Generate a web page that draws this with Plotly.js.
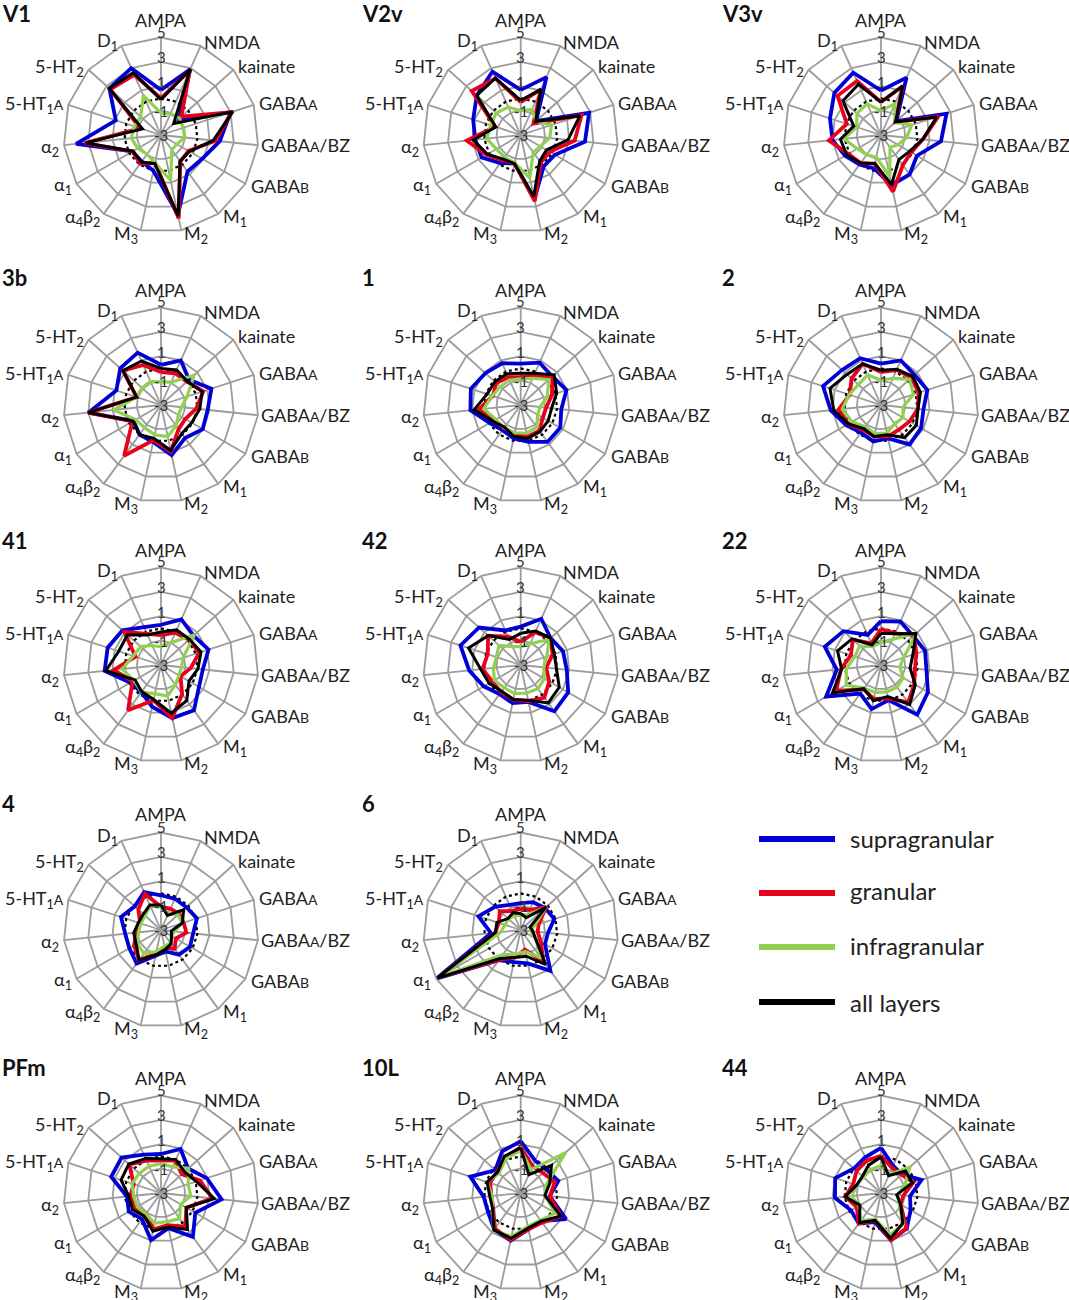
<!DOCTYPE html>
<html>
<head>
<meta charset="utf-8">
<script src="https://cdn.plot.ly/plotly-3.0.1.min.js"></script>
<style>
  html, body { margin: 0; padding: 0; background: #fff; }
  #chart { width: 1069px; height: 1300px; }
</style>
</head>
<body>
<div id="chart"></div>
<script>
const small = s => '<span style="font-size:14px">' + s + '</span>';
const receptors = ['AMPA', 'NMDA', 'kainate', 'GABA' + small('A'), 'GABA' + small('A') + '/BZ', 'GABA' + small('B'),
  'M<sub>1</sub>', 'M<sub>2</sub>', 'M<sub>3</sub>', 'α<sub>4</sub>β<sub>2</sub>', 'α<sub>1</sub>', 'α<sub>2</sub>',
  '5-HT<sub>1</sub>' + small('A'), '5-HT<sub>2</sub>', 'D<sub>1</sub>'];
const tickVals = [-3, -1, 1, 3, 5];
const tickLabels = ['-3', '-1', '1', '3', '5'];
const dottedRing = [0, 0, 0, 0, 0, 0, 0, 0, 0, 0, 0, 0, 0, 0, 0];
const layerNames = ['supragranular', 'granular', 'infragranular', 'all layers'];
const layerColors = ['#0000d6', '#e8001c', '#92d050', '#000000'];
const layerWidths = [3.8, 3.8, 3.2, 3];

const v1Supra = [0.7, 2.9, -1.0, 3.0, 1.85, 0.9, 0.7, 3.7, 0, -0.3, -0.3, 4.0, 0.9, 2.7, 3.0];
const v1Gran = [0, 2.8, -0.75, 3.1, 1.5, -0.4, -0.3, 4.0, -0.65, -0.1, -0.3, 3.3, -1.2, 2.6, 2.4];
const v1Infra = [-1.2, -1.1, -0.95, -1.1, -1.05, -1.5, -1.5, 0.8, -0.65, -1.05, -0.8, -0.55, -0.7, -0.75, 0.55];
const v1All = [-0.1, 2.9, -1.6, 3.2, 1.3, -0.3, -0.35, 3.8, -0.6, -0.25, -0.35, 3.2, -1.4, 2.7, 2.6];

const v2vSupra = [0.7, 2.2, -1.3, 2.9, 2.3, 0.25, 0.2, 2.4, -0.6, -0.15, 0.7, 0.75, 1.1, 1.85, 2.7];
const v2vGran = [-0.3, 1.1, -1.6, 2.25, 1.45, -0.25, -0.2, 2.55, -0.6, -0.45, 0.25, 1.45, -0.8, 2.4, 2.1];
const v2vInfra = [-1, -0.7, -1.3, -0.35, -0.6, -1.15, -1.25, 0.6, -0.65, -0.75, -0.7, -0.2, -0.4, -0.3, -0.5];
const v2vAll = [-0.15, 1.1, -1.35, 2.1, 0.9, -0.55, -0.35, 2.15, -0.6, -0.55, 0.15, 0.9, -0.85, 1.85, 2.1];

const v3vSupra = [0.65, 2.15, -1.3, 2.65, 1.95, 0.4, 1.0, 1.2, -0.2, 0, 0.4, 1, 1.4, 2.15, 2.6];
const v3vGran = [-0.3, 1.4, -1.45, 1.95, 0.45, -0.15, 0.05, 1.75, -0.6, -0.15, 0.1, 1.3, -0.05, 1.8, 1.85];
const v3vInfra = [-1, -0.2, -1.45, -0.35, -0.9, -1.4, -1.75, 0.5, -1.15, -1, -0.75, 0.05, -0.9, -0.35, -0.2];
const v3vAll = [-0.3, 1.4, -1.4, 1.8, 0.45, -0.3, -0.5, 1.15, -0.6, -0.15, 0.25, 0.35, -0.65, 1.2, 1.55];

const a3bSupra = [0.3, 1, 0.1, 1.35, 0.85, 0.95, 0.35, 1.2, 0.1, 0, -0.4, 3, 0.85, 1.5, 1.7];
const a3bGran = [-0.3, -0.15, -0.15, 0.65, -0.1, -0.7, -0.55, 0.9, -0.05, 2.15, -0.3, 3, -0.9, 1.2, 0.6];
const a3bInfra = [-1.1, -0.95, 0.65, -0.75, -1.3, -1.35, -0.9, -0.35, -0.5, -0.7, -0.6, 0.9, -0.9, -0.9, -0.9];
const a3bAll = [0, 0.15, -0.1, 0.55, 0.2, -0.1, -0.1, 0.8, -0.2, 0, -0.35, 3, -0.9, 1.2, 0.95];

const a1Supra = [0.4, 0.8, 0.5, 0.95, 0.35, 0.75, 0.75, 0.1, -0.2, -0.45, -0.05, 1.15, 1.3, 0.9, 0.75];
const a1Gran = [-0.7, -0.35, 0.5, -0.3, -0.9, -0.9, -0.4, -0.35, -0.5, -0.7, -0.4, 0.45, -0.6, -0.3, -0.5];
const a1Infra = [-0.85, -0.6, 0.1, -0.7, -1.4, -1.4, -0.75, -0.65, -0.65, -0.7, -0.65, 0.05, -0.55, -0.75, -0.75];
const a1All = [-0.4, -0.15, 0.7, 0.1, -0.45, -0.4, -0.3, -0.2, -0.35, -0.75, -0.35, 0.85, -0.1, -0.15, -0.2];

const a2Supra = [0.4, 1, 0.7, 1, 0.5, 0.8, 1, -0.2, 0.05, -0.2, 0.3, 1.15, 2, 1.3, 1.2];
const a2Gran = [-0.3, 0.15, 0.35, 0.25, 0.05, -0.3, -0.5, -0.35, -0.35, -0.5, 0.1, 0.5, -0.3, 0.25, 0.7];
const a2Infra = [-0.95, -0.6, 0.15, -0.2, -1.2, -0.9, -1.1, -0.65, -0.6, -0.8, -0.25, 0.2, -0.25, -0.5, -0.3];
const a2All = [-0.15, 0.2, 0.5, 0.4, 0.05, 0.35, 0.3, -0.5, -0.35, -0.6, 0.1, 0.9, 1.4, 0.75, 0.7];

const a41Supra = [0.3, 1.1, 0.6, 1.1, 0.45, 0.6, 1.6, 1.45, 0.5, -0.25, -0.1, 1.65, 1.6, 1.25, 0.4];
const a41Gran = [-0.55, -0.1, 0.1, 0.3, -0.55, -1.15, -0.05, 1.45, -0.05, 1.6, -0.3, 0.9, -0.8, 1.05, -0.2];
const a41Infra = [-1.5, -1, 0.7, -1.1, -1.3, -1.3, -1, -0.4, -0.6, -0.25, -0.45, 0.2, -0.6, -0.75, -1.25];
const a41All = [-0.3, 0.15, 0.15, 0.45, 0.05, -0.35, 0.6, 1.05, -0.1, -0.3, -0.55, 1.55, 0.65, 0.7, -0.3];

const a42Supra = [0.15, 1.15, 0.3, 0.65, 0.8, 1.5, 1.7, 0.1, 0.2, -0.05, 0.5, 1.25, 2.2, 1.6, 0.1];
const a42Gran = [-1.1, -0.05, 0.3, -0.25, -0.9, -0.3, 0.3, 0.05, -0.1, -0.25, -0.3, 0.15, -0.15, 0.6, -0.45];
const a42Infra = [-1.5, -1.1, 0.15, -0.75, -1.1, -0.75, -0.6, -0.65, -0.6, -0.7, -0.5, -0.75, -0.9, -0.6, -1.35];
const a42All = [-0.4, 0.05, 0.3, -0.1, -0.05, 0.65, 0.85, -0.05, -0.1, -0.35, 0, 0.3, 1.5, 0.6, -0.7];

const a22Supra = [0.6, 0.9, 0.55, 0.8, 0.75, 1.45, 2.05, -0.05, 0.7, -0.1, 2.2, 0.65, 1.85, 1.15, -0.3];
const a22Gran = [-0.05, -0.15, 0.65, 0.05, -0.2, 0.15, 0.8, -0.2, -0.15, -0.55, 1.25, 0.3, -0.4, 0.1, -1.05];
const a22Infra = [-1.15, -0.7, 0.95, -1.05, -1.45, -0.9, -0.75, -0.75, -0.7, -0.65, 0.3, -0.15, -0.75, -0.65, -1.35];
const a22All = [-0.4, -0.2, 0.85, -0.25, -0.6, 0.25, 1, -0.35, 0, -0.6, 1.6, 0.25, 0.75, 0.2, -1.2];

const a4Supra = [-0.15, -0.2, -0.2, 0.1, -0.35, -0.25, -0.5, -1.2, -0.85, 0.4, 0, -0.05, 0.45, -0.1, 0.4];
const a4Gran = [-1.1, -1.1, -1, -1.05, -0.9, -1.6, -1.1, -1.5, -1, 0.05, -0.45, -0.95, -1.2, -0.5, 0.25];
const a4Infra = [-1.1, -1.55, -1.1, -1.2, -1.9, -2, -1.65, -1.65, -1.2, -0.6, -0.75, -1.15, -1.25, -1.25, -0.8];
const a4All = [-0.95, -1.7, -0.5, -1.15, -2.15, -2, -1.6, -1.35, -0.9, 0.05, -0.65, -0.75, -1.05, -1.05, -0.75];

const a6Supra = [-0.8, -0.5, -0.3, -0.1, -0.75, -0.7, 1.15, -0.2, -0.3, 0.05, 5, -0.55, 0.65, -0.15, -0.75];
const a6Gran = [-1.25, -1.2, -0.2, -1.45, -1.6, -1.1, 0.2, -1.35, -0.7, 0, 4.8, -0.9, -1.1, -0.7, -1.3];
const a6Infra = [-1.8, -1.65, -0.2, -1.8, -2.2, -1.6, -0.15, -1.2, -0.95, -0.5, 4.7, -1.35, -1.65, -1.65, -1.7];
const a6All = [-1.65, -1.9, -0.2, -2.2, -2, -1.6, 0.5, -0.8, -0.7, -0.1, 4.9, -0.9, -0.95, -1.6, -1.45];

const pfmSupra = [0.2, 0.95, 0, 0.95, 2, 0.25, 1.45, -0.05, 0.95, -0.35, 0.05, -0.2, 1.3, 1.35, 0.45];
const pfmGran = [-0.35, -0.1, -0.7, 0.35, 1.25, -0.6, 0.4, -0.3, 0.05, -0.9, -0.6, -0.45, -0.65, 0.5, -0.1];
const pfmInfra = [-0.6, -0.65, 0.05, -0.65, -0.55, -1.15, -0.4, -0.6, -0.45, -0.9, -0.75, -0.75, -0.5, -0.6, -0.6];
const pfmAll = [-0.2, 0, -0.4, 0.05, 1.4, -0.6, 0.7, -0.15, 0.2, -0.65, -0.3, -0.35, 0.45, 0.55, 0.1];

const a10lSupra = [1.25, -0.1, -0.15, 0.25, -0.6, 1.3, -0.15, 0.05, 1, 0.7, 0.1, 0.05, 1.35, -0.2, 0.75];
const a10lGran = [0.75, -0.6, -0.55, -0.05, -0.6, 0.8, 0, 0.05, 0.95, 0.6, -0.4, -0.6, -0.35, -0.4, 0.2];
const a10lInfra = [0.5, -0.9, 1.95, -0.8, -1, 0.3, -0.25, -0.2, 0.65, 0.8, -0.35, -0.65, -0.1, -0.6, 0.05];
const a10lAll = [0.7, -1.35, 0.4, -0.5, -1, 0.8, -0.15, -0.05, 0.8, 0.75, -0.35, -0.45, -0.1, -0.45, 0.3];

const a44Supra = [0.7, -0.55, -0.7, 0.5, -0.6, -0.2, 0.6, 0.95, -0.55, 0.1, -0.15, 0.8, 0.95, 0, 0.2];
const a44Gran = [0.05, -0.75, -0.75, -0.2, -1.15, -1.15, 0.55, 0.95, -0.7, 0.1, -0.7, -0.05, -0.6, -0.3, -0.1];
const a44Infra = [-0.75, -1.35, 0.2, -0.95, -1.6, -1.3, 0.15, 0.5, -0.8, -0.2, -0.9, -0.6, -0.9, -1.05, -0.9];
const a44All = [-0.05, -1.45, -0.3, -0.3, -1.7, -1.15, 0.05, 0.8, -0.7, 0, -1, -0.05, -0.9, -0.95, -0.5];

const W = 1069, H = 1300, R = 97.5;
const panels = [
  { name: 'V1', cx: 161, cy: 135, lx: 0, ly: 13, data: [v1Supra, v1Gran, v1Infra, v1All] },
  { name: 'V2v', cx: 520.7, cy: 135, lx: 360, ly: 13, data: [v2vSupra, v2vGran, v2vInfra, v2vAll] },
  { name: 'V3v', cx: 881, cy: 135, lx: 720, ly: 13, data: [v3vSupra, v3vGran, v3vInfra, v3vAll] },
  { name: '3b', cx: 161, cy: 405, lx: 0, ly: 278, data: [a3bSupra, a3bGran, a3bInfra, a3bAll] },
  { name: '1', cx: 520.7, cy: 405, lx: 360, ly: 278, data: [a1Supra, a1Gran, a1Infra, a1All] },
  { name: '2', cx: 881, cy: 405, lx: 720, ly: 278, data: [a2Supra, a2Gran, a2Infra, a2All] },
  { name: '41', cx: 161, cy: 665, lx: 0, ly: 540, data: [a41Supra, a41Gran, a41Infra, a41All] },
  { name: '42', cx: 520.7, cy: 665, lx: 360, ly: 540, data: [a42Supra, a42Gran, a42Infra, a42All] },
  { name: '22', cx: 881, cy: 665, lx: 720, ly: 540, data: [a22Supra, a22Gran, a22Infra, a22All] },
  { name: '4', cx: 161, cy: 930, lx: 0, ly: 803, data: [a4Supra, a4Gran, a4Infra, a4All] },
  { name: '6', cx: 520.7, cy: 930, lx: 360, ly: 803, data: [a6Supra, a6Gran, a6Infra, a6All] },
  { name: 'PFm', cx: 161, cy: 1193, lx: 0, ly: 1067, data: [pfmSupra, pfmGran, pfmInfra, pfmAll] },
  { name: '10L', cx: 520.7, cy: 1193, lx: 360, ly: 1067, data: [a10lSupra, a10lGran, a10lInfra, a10lAll] },
  { name: '44', cx: 881, cy: 1193, lx: 720, ly: 1067, data: [a44Supra, a44Gran, a44Infra, a44All] }
];

// where each receptor label sits relative to its spoke tip, in px
const labelAnchor = ['center', 'left', 'left', 'left', 'left', 'left', 'left', 'left', 'right', 'right', 'right', 'right', 'right', 'right', 'right'];
const labelDx = [0, 1, 3, 3, 1, 4, 3, 1, -1, -2, -3, -3, -2, -3, -1];
const labelDy = [-18, -4, -4, -2, 0, 2, 4, 4, 4, 4, 2, 2, 0, -2, -4];
const tickLabelDy = [0, 0, -4, -5, -6];
const legendLineY = [839, 893, 947, 1002];
const legendTextY = [838, 890, 945, 1002];

const closed = arr => arr.concat(arr[0]);
const traces = [];
const layout = {
  width: W, height: H,
  margin: { l: 0, r: 0, t: 0, b: 0 },
  paper_bgcolor: '#fff',
  showlegend: false,
  font: { family: 'Lato, sans-serif', color: '#222' },
  annotations: [],
  shapes: []
};

panels.forEach((p, i) => {
  const id = i === 0 ? 'polar' : 'polar' + (i + 1);
  layout[id] = {
    domain: {
      x: [(p.cx - R) / W, (p.cx + R) / W],
      y: [1 - (p.cy + R) / H, 1 - (p.cy - R) / H]
    },
    gridshape: 'linear',
    bgcolor: 'rgba(0,0,0,0)',
    radialaxis: {
      range: [-3, 5], tickvals: tickVals, showticklabels: false, ticks: '',
      showline: false, gridcolor: '#9c9c9c', gridwidth: 1.8, angle: 90
    },
    angularaxis: {
      type: 'category', categoryorder: 'array', categoryarray: receptors,
      rotation: 90, direction: 'clockwise', ticks: '', showticklabels: false,
      gridcolor: '#9c9c9c', gridwidth: 1.8, linecolor: '#9c9c9c', linewidth: 1.8
    }
  };

  traces.push({
    type: 'scatterpolar', subplot: id, mode: 'lines', hoverinfo: 'skip',
    r: closed(dottedRing), theta: closed(receptors),
    line: { color: '#000', width: 2.2, dash: 'dot' }
  });
  p.data.forEach((vals, k) => {
    traces.push({
      type: 'scatterpolar', subplot: id, mode: 'lines', name: layerNames[k],
      r: closed(vals), theta: closed(receptors),
      line: { color: layerColors[k], width: layerWidths[k] }
    });
  });

  layout.annotations.push({
    xref: 'paper', yref: 'paper', x: p.lx / W, y: 1 - p.ly / H,
    xanchor: 'left', yanchor: 'middle', showarrow: false,
    text: '<b>' + p.name + '</b>', font: { family: 'Lato, sans-serif', size: 22, color: '#111' }
  });

  tickVals.forEach((v, j) => {
    layout.annotations.push({
      xref: 'paper', yref: 'paper', x: p.cx / W,
      y: 1 - (p.cy - (v + 3) / 8 * R + tickLabelDy[j]) / H,
      xanchor: 'center', yanchor: 'middle', showarrow: false,
      text: tickLabels[j], font: { family: 'Lato, sans-serif', size: 15, color: '#333' }
    });
  });

  receptors.forEach((label, j) => {
    const a = j * 24 * Math.PI / 180;
    layout.annotations.push({
      xref: 'paper', yref: 'paper',
      x: (p.cx + R * Math.sin(a) + labelDx[j]) / W,
      y: 1 - (p.cy - R * Math.cos(a) + labelDy[j]) / H,
      xanchor: labelAnchor[j], yanchor: 'middle', showarrow: false,
      text: label,
      font: { family: 'Lato, sans-serif', size: 18, color: '#222' }
    });
  });
});

layerNames.forEach((n, k) => {
  layout.shapes.push({
    type: 'line', xref: 'paper', yref: 'paper',
    x0: 759 / W, x1: 835 / W, y0: 1 - legendLineY[k] / H, y1: 1 - legendLineY[k] / H,
    line: { color: layerColors[k], width: 6 }
  });
  layout.annotations.push({
    xref: 'paper', yref: 'paper', x: 848 / W, y: 1 - legendTextY[k] / H,
    xanchor: 'left', yanchor: 'middle', showarrow: false,
    text: n, font: { family: 'Lato, sans-serif', size: 24, color: '#222' }
  });
});

Plotly.newPlot('chart', traces, layout, { displayModeBar: false, staticPlot: true });
</script>
</body>
</html>
